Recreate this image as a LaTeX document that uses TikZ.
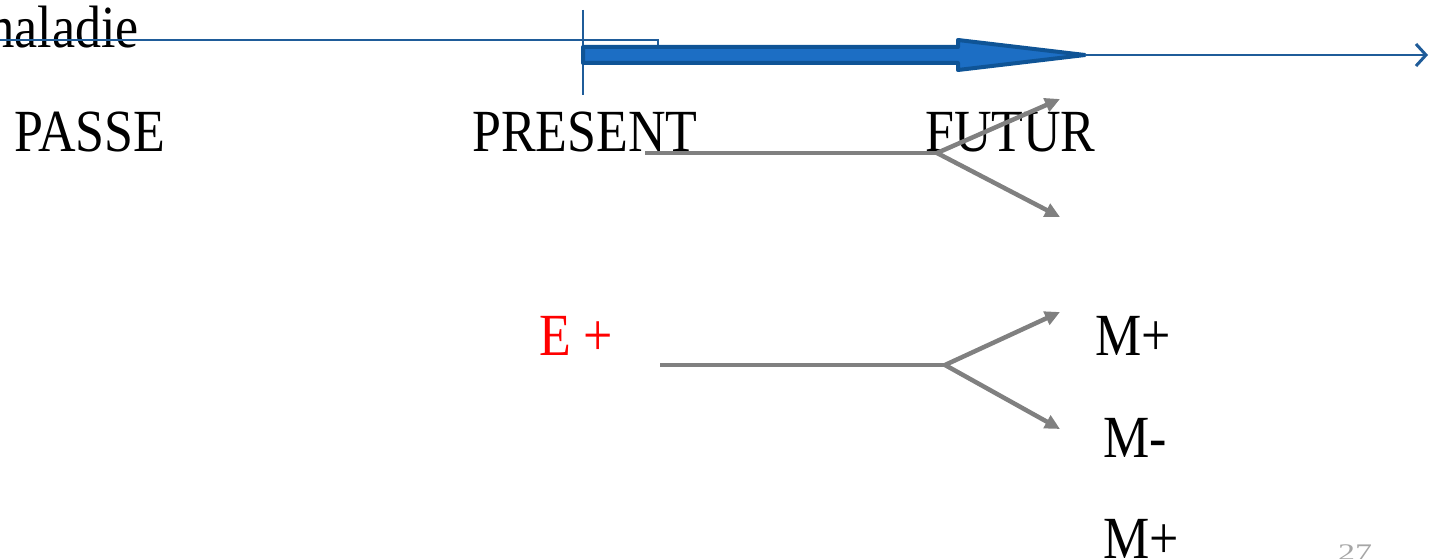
\documentclass[tikz,border=0pt]{standalone}
\usepackage{fontspec}
\setmainfont{Liberation Serif}
\usetikzlibrary{arrows.meta}
\definecolor{thinblue}{HTML}{1F5C99}
\definecolor{arrowfill}{HTML}{1C6EC4}
\definecolor{arrowedge}{HTML}{0F5496}
\definecolor{graycol}{HTML}{808080}
\definecolor{numgray}{HTML}{A6A6A6}
\tikzset{
  lbl/.style={font=\fontsize{52}{52}\selectfont, inner sep=0pt, anchor=base west},
  thinline/.style={draw=thinblue, line width=1.6pt},
  grayarrow/.style={draw=graycol, line width=4.5pt, -{Triangle[length=15pt,width=14pt]}},
  grayline/.style={draw=graycol, line width=4.5pt},
}
\begin{document}
\begin{tikzpicture}[x=1pt,y=-1pt]
\useasboundingbox (0,0) rectangle (1430,559);
% text labels
\node[lbl] (mal) at (-26,48) {\scalebox{1}[1.15]{maladie}};
\node[lbl] (passe) at (14,152) {\scalebox{1}[1.15]{PASSE}};
\node[lbl] (present) at (472,152) {\scalebox{1}[1.15]{PRESENT}};
\node[lbl] (futur) at (925,152) {\scalebox{1}[1.15]{FUTUR}};
\node[lbl, text=red] (eplus) at (539,355) {\scalebox{1}[1.15]{E +}};
\node[lbl] (m1) at (1095,355) {\scalebox{1}[1.15]{M+}};
\node[lbl] (m2) at (1103,457) {\scalebox{1}[1.15]{M-}};
\node[lbl] (m3) at (1103,558) {\scalebox{1}[1.15]{M+}};
\node[lbl, text=numgray, font=\fontsize{34}{34}\selectfont] (num) at (1338,560) {\scalebox{1}[0.7]{27}};
% thin blue lines
\coordinate (h0) at (0,40);
\coordinate (h1) at (658,40);
\coordinate (h2) at (658,47);
\draw[thinline] (h0) -- (h1) -- (h2);
\coordinate (v0) at (583,10);
\coordinate (v1) at (583,95);
\draw[thinline] (v0) -- (v1);
% thick blue arrow
\coordinate (tip) at (1085,55);
\draw[draw=arrowedge, fill=arrowfill, line width=4pt, line join=round]
  (583,47) -- (958,47) -- (958,40) -- (tip) -- (958,70) -- (958,63) -- (583,63) -- cycle;
\coordinate (far) at (1428,55);
\draw[thinline, -{Straight Barb[length=10pt,width=22pt,line width=3pt]}] (tip) -- (far);
% gray arrows, top
\coordinate (a0) at (645,153);
\coordinate (aj) at (937,153);
\coordinate (au) at (1060,99);
\coordinate (ad) at (1060,217);
\draw[grayline] (a0) -- (aj);
\draw[grayarrow] (aj) -- (au);
\draw[grayarrow] (aj) -- (ad);
% gray arrows, bottom
\coordinate (b0) at (660,365);
\coordinate (bj) at (945,365);
\coordinate (bu) at (1060,312);
\coordinate (bd) at (1060,429);
\draw[grayline] (b0) -- (bj);
\draw[grayarrow] (bj) -- (bu);
\draw[grayarrow] (bj) -- (bd);
\end{tikzpicture}
\end{document}
